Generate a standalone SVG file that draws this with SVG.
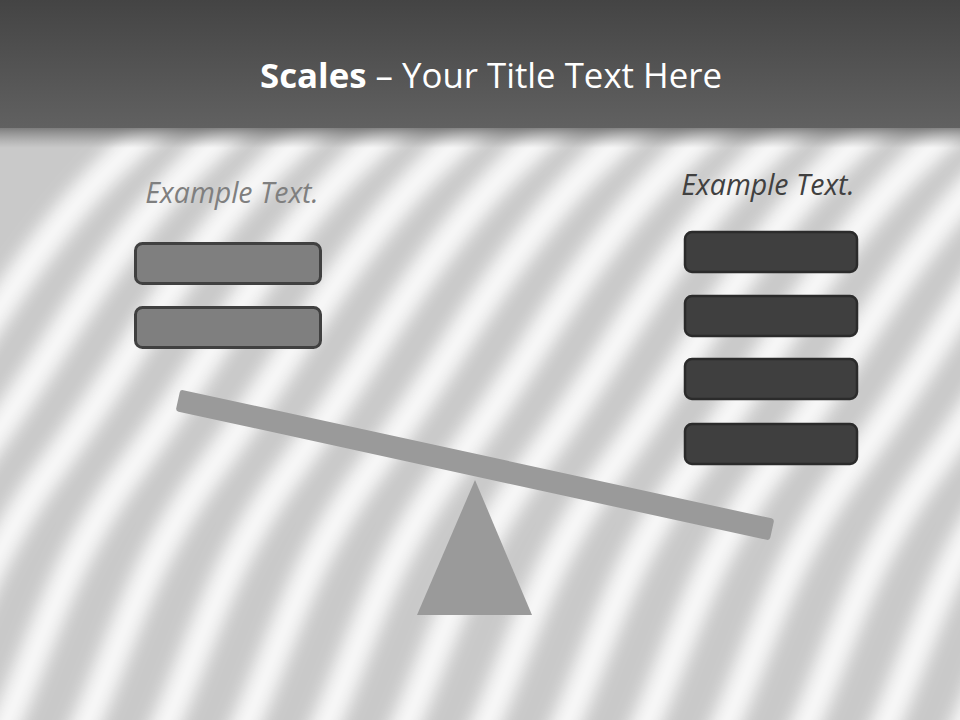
<svg xmlns="http://www.w3.org/2000/svg" xmlns:xlink="http://www.w3.org/1999/xlink" width="960" height="720" viewBox="0 0 960 720">
<defs>
<linearGradient id="hdr" x1="0" y1="0" x2="0" y2="1">
<stop offset="0" stop-color="#444"/>
<stop offset="1" stop-color="#616161"/>
</linearGradient>
<linearGradient id="shd" x1="0" y1="0" x2="0" y2="1">
<stop offset="0" stop-color="#6a6a6a" stop-opacity="0.8"/>
<stop offset="1" stop-color="#888" stop-opacity="0"/>
</linearGradient>
<filter id="blur" x="-20%" y="-20%" width="140%" height="140%"><feGaussianBlur stdDeviation="8"/></filter>
<path id="wave" d="M -260,780 C -200,660 -190,580 -110,470 S -20,330 40,250 S 120,160 170,110" fill="none" stroke="#fcfcfc" stroke-width="30" stroke-linecap="round"/>
<style>
.lbox{fill:#7f7f7f;stroke:#404040;stroke-width:3}
.rbox{fill:#3f3f3f;stroke:#2b2b2b;stroke-width:2.5}
.ex{font-family:"Open Sans","Liberation Sans",sans-serif;font-style:italic;font-size:28.5px}
.part{fill:#9a9a9a}
</style>
</defs>
<rect width="960" height="720" fill="#c9c9c9"/>
<g filter="url(#blur)" opacity="0.92">
<use xlink:href="#wave" x="0"/>
<use xlink:href="#wave" x="80"/>
<use xlink:href="#wave" x="160"/>
<use xlink:href="#wave" x="240"/>
<use xlink:href="#wave" x="320"/>
<use xlink:href="#wave" x="400"/>
<use xlink:href="#wave" x="480"/>
<use xlink:href="#wave" x="560"/>
<use xlink:href="#wave" x="640"/>
<use xlink:href="#wave" x="720"/>
<use xlink:href="#wave" x="800"/>
<use xlink:href="#wave" x="880"/>
<use xlink:href="#wave" x="960"/>
<use xlink:href="#wave" x="1040"/>
<use xlink:href="#wave" x="1120"/>
<use xlink:href="#wave" x="1200"/>
</g>
<g id="header">
<rect x="0" y="0" width="960" height="128" fill="url(#hdr)"/>
<rect x="0" y="128" width="960" height="20" fill="url(#shd)"/>
<text x="491" y="88" text-anchor="middle" font-family="'Open Sans','Liberation Sans',sans-serif" font-size="34" fill="#ffffff" textLength="462" lengthAdjust="spacingAndGlyphs"><tspan font-weight="bold">Scales</tspan> – Your Title Text Here</text>
</g>
<g id="left-label"><text class="ex" x="232" y="203" text-anchor="middle" fill="#7f7f7f">Example Text.</text></g>
<g id="right-label"><text class="ex" x="768" y="195" text-anchor="middle" fill="#404040">Example Text.</text></g>
<g id="left-box-1"><rect class="lbox" x="135.5" y="243.5" width="185" height="40" rx="7"/></g>
<g id="left-box-2"><rect class="lbox" x="135.5" y="307.5" width="185" height="40" rx="7"/></g>
<g id="right-box-1"><rect class="rbox" x="685" y="232" width="172" height="40" rx="7"/></g>
<g id="right-box-2"><rect class="rbox" x="685" y="296" width="172" height="40" rx="7"/></g>
<g id="right-box-3"><rect class="rbox" x="685" y="359" width="172" height="40" rx="7"/></g>
<g id="right-box-4"><rect class="rbox" x="685" y="424" width="172" height="40" rx="7"/></g>
<g id="fulcrum"><polygon class="part" points="475,480 532,615 417,615"/></g>
<g id="beam"><rect class="part" x="-304" y="-11" width="608" height="22" rx="3" transform="translate(475,465) rotate(12.3)"/></g>
</svg>
